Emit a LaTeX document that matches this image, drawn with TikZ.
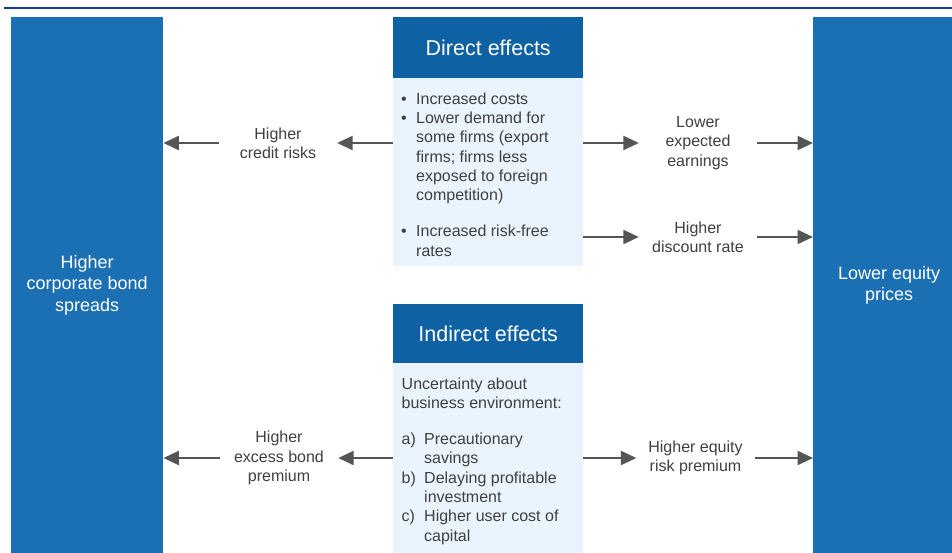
\documentclass[tikz,border=0pt]{standalone}
\usepackage{fontspec}
\setmainfont{Liberation Sans}
\usetikzlibrary{arrows.meta}

\definecolor{barblue}{RGB}{27,112,180}
\definecolor{headblue}{RGB}{14,97,163}
\definecolor{lightfill}{RGB}{234,244,254}
\definecolor{arrowgray}{RGB}{85,85,85}
\definecolor{textgray}{RGB}{64,64,64}
\definecolor{ruleblue}{RGB}{18,58,150}

% list helpers: bullet / enumeration label with hanging indent
\newcommand\itembul{\makebox[15pt][l]{\textbullet}}
\newcommand\itemgap{\hspace*{15pt}}
\newcommand\enumlab[1]{\makebox[22.5pt][l]{#1}}
\newcommand\enumgap{\hspace*{22.5pt}}

\begin{document}
\begin{tikzpicture}[x=1pt,y=-1pt,
  sidebar/.style={fill=barblue, minimum width=152pt, minimum height=536pt,
    anchor=north west, inner sep=0pt, text=white, align=center,
    font=\fontsize{18}{21.6}\selectfont},
  headbox/.style={fill=headblue, minimum width=190pt, anchor=north west,
    inner sep=0pt, text=white, font=\fontsize{21.5}{25}\selectfont},
  bodybox/.style={fill=lightfill, minimum width=190pt, anchor=north west,
    inner sep=0pt},
  % multi-line text is placed by the baseline of its last line
  bodytext/.style={anchor=base west, inner sep=0pt, align=left,
    text=textgray, font=\fontsize{16}{19.3}\selectfont},
  effect/.style={minimum width=118pt, inner sep=0pt, align=center,
    text=textgray, font=\fontsize{16}{19.3}\selectfont},
  flow/.style={draw=arrowgray, line width=2.2pt,
    -{Triangle[length=15.5pt,width=14pt]}}
]
\clip (0,0) rectangle (952,553);
\fill[white] (0,0) rectangle (952,553);

% rule along the top
\draw[ruleblue, line width=1.3pt] (4,8) -- (952,8);

% outcome bars
\node[sidebar] (lbar) at (11,17) {Higher\\corporate bond\\spreads};
\node[sidebar] (rbar) at (813,17) {Lower equity\\prices};

% direct effects panel
\node[headbox, minimum height=61pt] (dhead) at (393,17) {Direct effects};
\node[bodybox, minimum height=188pt] (dbody) at (393,78) {};
\node[bodytext] (dtext) at (401,256) {%
  \itembul Increased costs\\
  \itembul Lower demand for\\
  \itemgap some firms (export\\
  \itemgap firms; firms less\\
  \itemgap exposed to foreign\\
  \itemgap competition)\\[16.7pt]
  \itembul Increased risk-free\\
  \itemgap rates};

% indirect effects panel
\node[headbox, minimum height=59pt] (ihead) at (393,304) {Indirect effects};
\node[bodybox, minimum height=190pt] (ibody) at (393,363) {};
\node[bodytext] (itext) at (401.5,541) {%
  Uncertainty about\\
  business environment:\\[16.5pt]
  \enumlab{a)}Precautionary\\
  \enumgap savings\\
  \enumlab{b)}Delaying profitable\\
  \enumgap investment\\
  \enumlab{c)}Higher user cost of\\
  \enumgap capital};

% intermediate channels
\node[effect] (credit)   at (278,143)   {Higher\\credit risks};
\node[effect] (earnings) at (698,143)   {Lower\\expected\\earnings};
\node[effect] (discount) at (698,237)   {Higher\\discount rate};
\node[effect] (excess)   at (279,458)   {Higher\\excess bond\\premium};
\node[effect] (erp)      at (695.5,458) {Higher equity\\risk premium};

% transmission arrows
\draw[flow] (dbody.west |- credit) -- (credit.east);
\draw[flow] (credit.west) -- (lbar.east |- credit);
\draw[flow] (dbody.east |- earnings) -- (earnings.west);
\draw[flow] (earnings.east) -- (rbar.west |- earnings);
\draw[flow] (dbody.east |- discount) -- (discount.west);
\draw[flow] (discount.east) -- (rbar.west |- discount);
\draw[flow] (ibody.west |- excess) -- (excess.east);
\draw[flow] (excess.west) -- (lbar.east |- excess);
\draw[flow] (ibody.east |- erp) -- (erp.west);
\draw[flow] (erp.east) -- (rbar.west |- erp);
\end{tikzpicture}
\end{document}
